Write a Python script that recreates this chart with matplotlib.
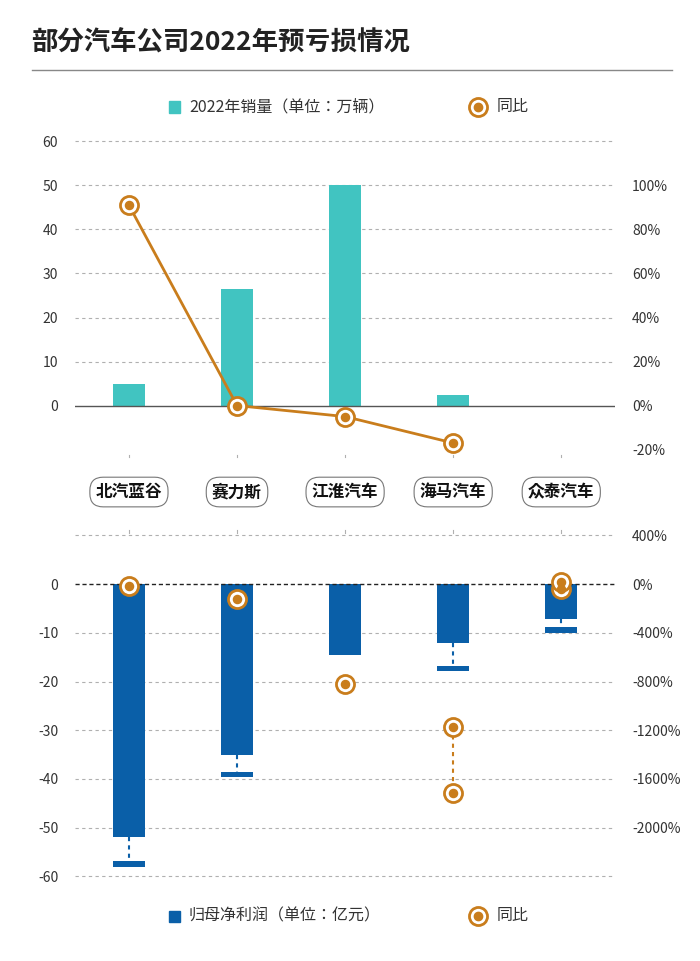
import matplotlib
matplotlib.use('Agg')
import matplotlib.pyplot as plt
from matplotlib.lines import Line2D

plt.rcParams['font.family'] = ['Noto Sans CJK JP', 'Noto Sans CJK SC', 'DejaVu Sans']
plt.rcParams['axes.unicode_minus'] = False

companies = ['北汽蓝谷', '赛力斯', '江淮汽车', '海马汽车', '众泰汽车']
sales = [5, 26.5, 50, 2.5, 0]
sales_yoy = [91, 0, -5, -17]          # % ; 众泰 has no value
profit_hi = [-52, -35, -14.5, -12, -7.2]   # upper end of forecast loss (亿元)
profit_lo = [-58, -39.6, None, -17.9, -10]  # lower end
profit_yoy_a = [-14, -123, -821, -1175, 19]
profit_yoy_b = [None, None, None, -1717, -41]

TEAL = '#41c4c1'
BLUE = '#0a5fa8'
ORANGE = '#c97d1c'
GRID = '#b0b0b0'
TXT = '#333333'

fig = plt.figure(figsize=(7, 9.61), dpi=100)
fig.text(0.045, 0.955, '部分汽车公司2022年预亏损情况', fontsize=19, fontweight='bold',
         color='#222222', va='center')
fig.add_artist(Line2D([0.045, 0.96], [0.927, 0.927], color='#888888', lw=1))


def ring(ax, x, y, ms=13):
    ax.plot(x, y, 'o', ms=ms, mfc='white', mec=ORANGE, mew=2, zorder=5, clip_on=False)
    ax.plot(x, y, 'o', ms=ms * 0.45, mfc=ORANGE, mec=ORANGE, zorder=6, clip_on=False)


xs = list(range(len(companies)))

# ---- top chart: sales ----
ax1 = fig.add_axes([0.107, 0.523, 0.772, 0.339])
ax1.set_xlim(-0.5, 4.5)
ax1.set_ylim(-12, 62)
ax1.bar(xs, sales, width=0.3, color=TEAL, zorder=3)
ax1.set_yticks(range(0, 61, 10))
for t in range(10, 61, 10):
    ax1.axhline(t, color=GRID, ls=(0, (3, 3)), lw=0.8, zorder=1)
ax1.axhline(0, color='#555555', lw=1, zorder=4)
ax1.set_xticks([])
ax1.tick_params(axis='y', length=0, labelsize=10, labelcolor=TXT, pad=12)
for s in ax1.spines.values():
    s.set_visible(False)
ax1b = ax1.twinx()
ax1b.set_ylim(-24, 124)
ax1b.set_yticks(range(-20, 101, 20))
ax1b.set_yticklabels([f'{t}%' for t in range(-20, 101, 20)])
ax1b.tick_params(axis='y', length=0, labelsize=10, labelcolor=TXT, pad=12)
for s in ax1b.spines.values():
    s.set_visible(False)
ax1b.plot(xs[:len(sales_yoy)], sales_yoy, color=ORANGE, lw=2, zorder=4)
for x, y in zip(xs, sales_yoy):
    ring(ax1b, x, y)

# ---- bottom chart: net profit ----
ax2 = fig.add_axes([0.107, 0.078, 0.772, 0.375])
ax2.set_xlim(-0.5, 4.5)
ax2.set_ylim(-62, 12)
ax2.bar(xs, profit_hi, width=0.3, color=BLUE, zorder=3)
for x, hi, lo in zip(xs, profit_hi, profit_lo):
    if lo is None:
        continue
    ax2.bar(x, 1.1, bottom=lo, width=0.3, color=BLUE, zorder=3)
    ax2.plot([x, x], [hi, lo + 1.1], color=BLUE, ls=(0, (2, 2)), lw=1.5, zorder=3)
ax2.set_yticks(range(-60, 1, 10))
for t in range(-60, 11, 10):
    if t != 0:
        ax2.axhline(t, color=GRID, ls=(0, (3, 3)), lw=0.8, zorder=1)
ax2.axhline(0, color='#222222', ls=(0, (3, 2)), lw=1, zorder=4)
ax2.set_xticks([])
ax2.tick_params(axis='y', length=0, labelsize=10, labelcolor=TXT, pad=12)
for s in ax2.spines.values():
    s.set_visible(False)
ax2b = ax2.twinx()
ax2b.set_ylim(-62 * 40, 12 * 40)
ax2b.set_yticks(range(-2000, 401, 400))
ax2b.set_yticklabels([f'{t}%' for t in range(-2000, 401, 400)])
ax2b.tick_params(axis='y', length=0, labelsize=10, labelcolor=TXT, pad=12)
for s in ax2b.spines.values():
    s.set_visible(False)
for x, a, b in zip(xs, profit_yoy_a, profit_yoy_b):
    if b is not None:
        ax2b.plot([x, x], [a, b], color=ORANGE, ls=(0, (2, 2)), lw=1.5, zorder=4)
        ring(ax2b, x, b)
    ring(ax2b, x, a)

# ---- category labels between charts ----
for x, name in zip(xs, companies):
    fx = 0.107 + 0.772 * (x + 0.5) / 5
    fig.text(fx, 0.488, name, ha='center', va='center', fontsize=12, fontweight='bold',
             color='#111111',
             bbox=dict(boxstyle='round,pad=0.35,rounding_size=0.8', fc='white', ec='#777777', lw=0.8))
    fig.add_artist(Line2D([fx, fx], [0.524, 0.527], color=GRID, lw=0.8))
    fig.add_artist(Line2D([fx, fx], [0.445, 0.448], color=GRID, lw=0.8))

# ---- legends ----
def legend(y, color, label):
    fig.add_artist(plt.Rectangle((0.241, y - 0.0065), 0.016, 0.012, color=color, transform=fig.transFigure))
    fig.text(0.27, y, label, fontsize=11.5, color=TXT, va='center')
    fig.add_artist(Line2D([0.683], [y], marker='o', ms=13, mfc='white', mec=ORANGE, mew=2))
    fig.add_artist(Line2D([0.683], [y], marker='o', ms=6, mfc=ORANGE, mec=ORANGE))
    fig.text(0.71, y, '同比', fontsize=11.5, color=TXT, va='center')

legend(0.889, TEAL, '2022年销量（单位：万辆）')
legend(0.047, BLUE, '归母净利润（单位：亿元）')

fig.savefig('out.png', dpi=100, facecolor='white')
